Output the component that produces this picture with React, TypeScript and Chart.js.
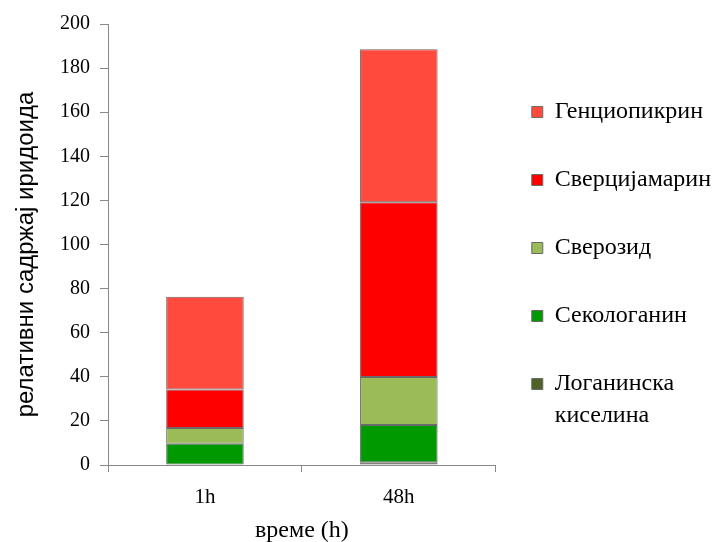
import React, { useEffect, useRef } from 'react';
import { Chart, registerables } from 'chart.js';

Chart.register(...registerables);

const categories = ['1h', '48h'];
const seriesNames = ['Логанинска\nкиселина', 'Секологанин', 'Сверозид', 'Сверцијамарин', 'Генциопикрин'];
const loganicAcid = [0.2, 1.3];
const secologanin = [9.4, 16.8];
const sweroside = [7.2, 21.8];
const swertiamarin = [17.4, 79.3];
const gentiopicrin = [42.1, 69.4];
const seriesColors = ['#4F6228', '#009A00', '#9BBB59', '#FF0000', '#FF4A3D'];
const yMin = 0;
const yMax = 200;
const yStep = 20;
const yTitle = 'релативни садржај иридоида';
const xTitle = 'време (h)';

const SERIF = "'Liberation Serif', 'Times New Roman', serif";
const SANS = "'Liberation Sans', Arial, sans-serif";

export default function App() {
  const ref = useRef<HTMLCanvasElement | null>(null);

  useEffect(() => {
    document.body.style.margin = '0';
    const canvas = ref.current;
    if (!canvas) return;
    const seriesValues = [loganicAcid, secologanin, sweroside, swertiamarin, gentiopicrin];
    const chart = new Chart(canvas, {
      type: 'bar',
      data: {
        labels: categories,
        datasets: seriesNames.map((name, i) => ({
          label: name,
          data: seriesValues[i],
          backgroundColor: seriesColors[i],
          borderColor: '#6a6a6a',
          borderWidth: 1,
          borderSkipped: false,
          barPercentage: 0.4,
          categoryPercentage: 1,
        })),
      },
      options: {
        responsive: false,
        animation: false,
        layout: { padding: { left: 0, right: -4, top: 24, bottom: 0 } },
        plugins: {
          tooltip: { enabled: false },
          legend: {
            position: 'right',
            align: 'start',
            reverse: true,
            maxWidth: 300,
            title: { display: true, text: '', padding: { top: 30, bottom: 0 }, font: { size: 10, lineHeight: 1 } },
            labels: {
              boxWidth: 11,
              boxHeight: 11,
              padding: 36,
              color: '#000',
              font: { family: SERIF, size: 24, lineHeight: 1.3334 },
              generateLabels: (ch: any) => {
                const items = (Chart as any).defaults.plugins.legend.labels.generateLabels(ch);
                return items.map((it: any) => ({
                  ...it,
                  text: String(it.text).split('\n'),
                  lineWidth: 1,
                  strokeStyle: '#6a6a6a',
                }));
              },
            },
          },
        },
        scales: {
          x: {
            stacked: true,
            offset: true,
            afterFit: (s: any) => { s.height = 77; },
            grid: {
              offset: true,
              drawOnChartArea: false,
              drawTicks: true,
              tickLength: 7,
              color: '#888',
            },
            border: { color: '#888', width: 1 },
            ticks: { color: '#000', padding: 13, font: { family: SERIF, size: 21 } },
            title: {
              display: true,
              text: xTitle,
              color: '#000',
              padding: { top: 0, bottom: -3 },
              font: { family: SERIF, size: 24, lineHeight: 1.2 },
            },
          },
          y: {
            stacked: true,
            min: yMin,
            max: yMax,
            afterFit: (s: any) => { s.width = 108; },
            grid: {
              drawOnChartArea: false,
              drawTicks: true,
              tickLength: 8,
              color: '#888',
            },
            border: { color: '#888', width: 1 },
            ticks: { stepSize: yStep, color: '#000', padding: 10, font: { family: SERIF, size: 20 } },
            title: {
              display: true,
              text: yTitle + '\u00A0\u00A0\u00A0',
              color: '#000',
              padding: { top: 12, bottom: 0 },
              font: { family: SANS, size: 24, lineHeight: 1.2 },
            },
          },
        },
      },
    });
    return () => chart.destroy();
  }, []);

  return (
    <div style={{ width: 717, height: 542, background: '#fff' }}>
      <canvas ref={ref} width={717} height={542} />
    </div>
  );
}
